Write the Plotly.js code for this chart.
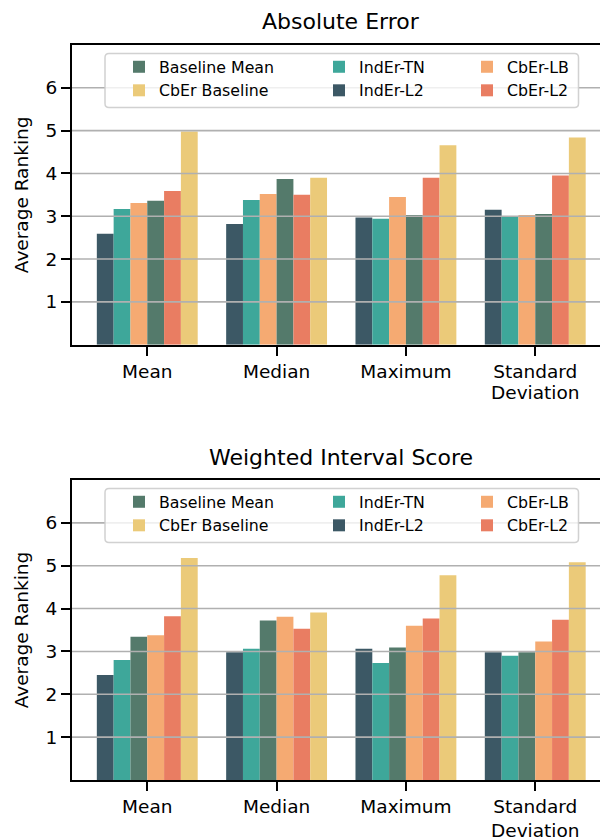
<!DOCTYPE html>
<html>
<head>
<meta charset="utf-8">
<script src="https://cdn.plot.ly/plotly-3.0.1.min.js"></script>
<style>
  html, body { margin: 0; padding: 0; overflow: hidden; background: #fff; }
  #chart { width: 620px; height: 837px; }
</style>
</head>
<body>
<div id="chart"></div>
<script>
// ---------- data ----------
const categories = ['Mean', 'Median', 'Maximum', 'Standard Deviation'];
const tickLabels = ['Mean', 'Median', 'Maximum', 'Standard<br>Deviation'];
const yTicks = [1, 2, 3, 4, 5, 6];

const panelTitles = ['Absolute Error', 'Weighted Interval Score'];

// Absolute Error – average ranking
const aeIndErL2        = [2.59, 2.82, 2.97, 3.15];
const aeIndErTN        = [3.17, 3.38, 2.94, 3.00];
const aeCbErLB         = [3.31, 3.52, 3.45, 3.03];
const aeBaselineMean   = [3.36, 3.87, 3.03, 3.05];
const aeCbErL2         = [3.59, 3.50, 3.90, 3.95];
const aeCbErBaseline   = [4.98, 3.90, 4.66, 4.84];

// Weighted Interval Score – average ranking
const wisIndErL2       = [2.45, 2.98, 3.06, 2.98];
const wisIndErTN       = [2.80, 3.06, 2.73, 2.90];
const wisBaselineMean  = [3.34, 3.72, 3.09, 2.98];
const wisCbErLB        = [3.38, 3.81, 3.60, 3.23];
const wisCbErL2        = [3.82, 3.53, 3.77, 3.74];
const wisCbErBaseline  = [5.18, 3.91, 4.78, 5.08];

// ---------- style ----------
const colors = {
  'Baseline Mean': 'rgb(84,122,107)',
  'CbEr Baseline': 'rgb(235,202,121)',
  'IndEr-TN':      'rgb(62,167,154)',
  'IndEr-L2':      'rgb(60,88,101)',
  'CbEr-LB':       'rgb(245,170,114)',
  'CbEr-L2':       'rgb(233,125,98)'
};
const FONT = 'DejaVu Sans, Liberation Sans, sans-serif';

// figure geometry (px)
const W = 620, H = 837, ML = 72, MR = 10, MT = 45, MB = 57;
const PW = W - ML - MR, PH = H - MT - MB;
const px2x = p => (p - ML) / PW;
const py2y = p => (H - MB - p) / PH;

// legend columns (matplotlib fills 3 columns column-major)
const legendCols = {
  'Baseline Mean': 0, 'CbEr Baseline': 0,
  'IndEr-TN': 1, 'IndEr-L2': 1,
  'CbEr-LB': 2, 'CbEr-L2': 2
};
const legendRow = {
  'Baseline Mean': 0, 'CbEr Baseline': 1,
  'IndEr-TN': 0, 'IndEr-L2': 1,
  'CbEr-LB': 0, 'CbEr-L2': 1
};

const panels = [
  { xa: 'x',  ya: 'y',  series: [
      ['IndEr-L2', aeIndErL2], ['IndEr-TN', aeIndErTN], ['CbEr-LB', aeCbErLB],
      ['Baseline Mean', aeBaselineMean], ['CbEr-L2', aeCbErL2], ['CbEr Baseline', aeCbErBaseline]
    ] },
  { xa: 'x2', ya: 'y2', series: [
      ['IndEr-L2', wisIndErL2], ['IndEr-TN', wisIndErTN], ['Baseline Mean', wisBaselineMean],
      ['CbEr-LB', wisCbErLB], ['CbEr-L2', wisCbErL2], ['CbEr Baseline', wisCbErBaseline]
    ] }
];

const traces = [];
panels.forEach((p, pi) => {
  p.series.forEach(([name, vals]) => {
    const legIdx = pi * 3 + legendCols[name] + 1;
    traces.push({
      type: 'bar',
      name: name,
      x: categories,
      y: vals,
      xaxis: p.xa,
      yaxis: p.ya,
      marker: { color: colors[name], line: { width: 0 } },
      legend: legIdx === 1 ? 'legend' : 'legend' + legIdx,
      legendrank: legendRow[name] + 1,
      hoverinfo: 'y+name'
    });
  });
});

// ---------- layout ----------
const topDomain = [py2y(344.7), 1];
const botDomain = [0, py2y(480)];

function xAxis(anchor) {
  return {
    domain: [0, 1], anchor: anchor,
    type: 'category',
    range: [-0.582, 3.578],
    tickvals: categories, ticktext: tickLabels,
    ticks: 'outside', ticklen: 9, tickwidth: 2, tickcolor: '#000',
    showline: true, linewidth: 2, linecolor: '#000', mirror: true,
    showgrid: false, zeroline: false,
    tickfont: { family: FONT, size: 18.5, color: '#000' }
  };
}
function yAxis(anchor, domain) {
  return {
    domain: domain, anchor: anchor,
    range: [0, 7],
    tickvals: yTicks,
    ticks: 'outside', ticklen: 9, tickwidth: 2, tickcolor: '#000',
    showline: true, linewidth: 2, linecolor: '#000', mirror: true,
    showgrid: false, zeroline: false,
    tickfont: { family: FONT, size: 18.5, color: '#000' },
    title: { text: 'Average Ranking', font: { family: FONT, size: 18.5, color: '#000' }, standoff: 12 }
  };
}

const shapes = [];
// grid lines drawn above the bars
[['y', 'x'], ['y2', 'x2']].forEach(([ya, xa]) => {
  yTicks.forEach(t => {
    shapes.push({
      type: 'line', layer: 'above',
      xref: xa + ' domain', x0: 0, x1: 1,
      yref: ya, y0: t, y1: t,
      line: { color: 'rgb(176,176,176)', width: 1.6 }
    });
  });
});
// legend frames
function roundedRect(x0p, y0p, x1p, y1p, r) {
  const X = px2x, Y = py2y;
  return 'M' + X(x0p + r) + ',' + Y(y0p) +
    ' L' + X(x1p - r) + ',' + Y(y0p) +
    ' Q' + X(x1p) + ',' + Y(y0p) + ' ' + X(x1p) + ',' + Y(y0p + r) +
    ' L' + X(x1p) + ',' + Y(y1p - r) +
    ' Q' + X(x1p) + ',' + Y(y1p) + ' ' + X(x1p - r) + ',' + Y(y1p) +
    ' L' + X(x0p + r) + ',' + Y(y1p) +
    ' Q' + X(x0p) + ',' + Y(y1p) + ' ' + X(x0p) + ',' + Y(y1p - r) +
    ' L' + X(x0p) + ',' + Y(y0p + r) +
    ' Q' + X(x0p) + ',' + Y(y0p) + ' ' + X(x0p + r) + ',' + Y(y0p) + ' Z';
}
const legendBoxes = [[105, 53.5, 578.5, 107.5], [105, 488.5, 578.5, 542.5]];
legendBoxes.forEach(b => {
  shapes.push({
    type: 'path', layer: 'above', xref: 'paper', yref: 'paper',
    path: roundedRect(b[0], b[1], b[2], b[3], 4),
    fillcolor: 'rgba(255,255,255,0.8)',
    line: { color: 'rgba(204,204,204,0.9)', width: 1.5 }
  });
});

// legends: 3 columns per panel
const colTextX = [159, 359, 507];
const legendTop = [53.5, 488.5];
const legends = {};
for (let pi = 0; pi < 2; pi++) {
  for (let c = 0; c < 3; c++) {
    const idx = pi * 3 + c + 1;
    const key = idx === 1 ? 'legend' : 'legend' + idx;
    legends[key] = {
      x: px2x(colTextX[c] - 40), xanchor: 'left', xref: 'paper',
      y: py2y(legendTop[pi] - 3.5), yanchor: 'top', yref: 'paper',
      orientation: 'v',
      bgcolor: 'rgba(0,0,0,0)', borderwidth: 0,
      font: { family: FONT, size: 15.8, color: '#000' },
      traceorder: 'normal',
      itemclick: false, itemdoubleclick: false
    };
  }
}

const annotations = [
  { text: panelTitles[0], xref: 'paper', yref: 'paper', x: 0.5, y: py2y(22), xanchor: 'center', yanchor: 'middle',
    showarrow: false, font: { family: FONT, size: 22, color: '#000' } },
  { text: panelTitles[1], xref: 'paper', yref: 'paper', x: 0.5, y: py2y(457), xanchor: 'center', yanchor: 'middle',
    showarrow: false, font: { family: FONT, size: 22, color: '#000' } }
];

const layout = Object.assign({
  width: W, height: H,
  margin: { l: ML, r: MR, t: MT, b: MB, pad: 0 },
  paper_bgcolor: '#fff', plot_bgcolor: '#fff',
  font: { family: FONT, color: '#000' },
  barmode: 'group', bargap: 0.22, bargroupgap: 0,
  showlegend: true,
  xaxis: xAxis('y'), yaxis: yAxis('x', topDomain),
  xaxis2: xAxis('y2'), yaxis2: yAxis('x2', botDomain),
  shapes: shapes,
  annotations: annotations
}, legends);

Plotly.newPlot('chart', traces, layout, { displayModeBar: false, staticPlot: true }).then(() => {
  // tighten line spacing of the two-line category label (matplotlib-like)
  document.querySelectorAll('.xtick text tspan.line').forEach(t => {
    const dy = parseFloat(t.getAttribute('dy'));
    if (dy > 0) t.setAttribute('dy', (dy / 1.3 * 1.12) + 'em');
  });
});
</script>
</body>
</html>
